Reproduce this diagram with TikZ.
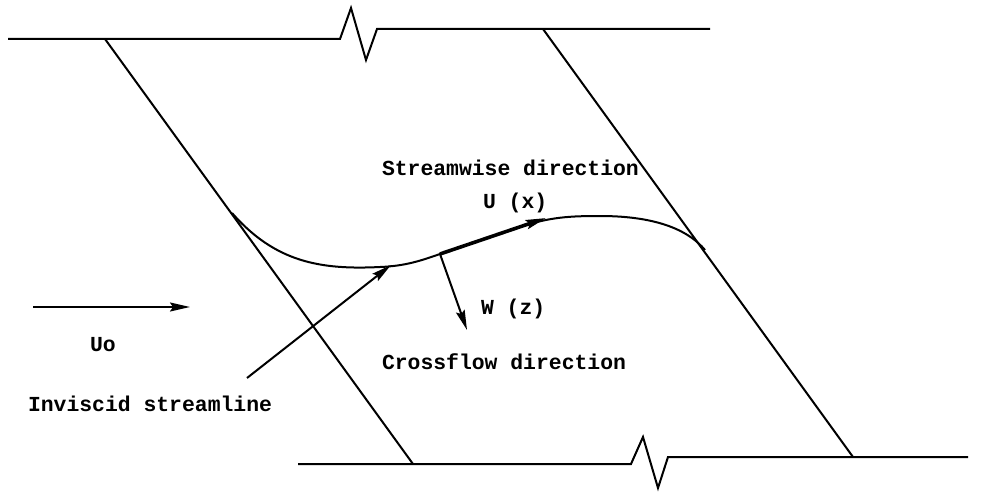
\documentclass[tikz,border=0pt]{standalone}
\usepackage{fontspec}
\setmonofont{Liberation Mono}
\usetikzlibrary{arrows.meta, positioning}

\begin{document}
\begin{tikzpicture}[>={Stealth[length=10pt, width=4.5pt, inset=1.5pt]}, x=0.5pt, y=-0.5pt, line width=1pt,
  lbl/.style={font=\ttfamily\bfseries\fontsize{10.7}{12}\selectfont, inner sep=0pt, anchor=west}]
  \useasboundingbox (0,0) rectangle (996,492);

  % Walls with break marks
  \draw (8,39) -- (340,39) -- (351,8) -- (366,60) -- (377,29) -- (710,29);
  \draw (298,464) -- (631,464) -- (643,437) -- (658,488) -- (668,457) -- (968,457);

  % Swept lines
  \draw (105,39) -- (413,464);
  \draw (543,29) -- (853,457);

  % Points for the arrows
  \coordinate (uBase) at (440,254);
  \coordinate (uTip) at (546,218);
  \coordinate (wTip) at (467,330);
  \coordinate (streamTail) at (247,378);
  \coordinate (streamTip) at (391,265);
  \coordinate (uoTail) at (33,307);
  \coordinate (uoTip) at (190,307);

  % Inviscid streamline
  \draw (232,213) .. controls (275,262) and (320,270) .. (380,267)
        .. controls (405,266) and (420,261) .. (uBase)
        -- (520,227)
        .. controls (550,217) and (570,216) .. (600,216)
        .. controls (660,216) and (690,232) .. (705,250);

  % Arrows
  \draw[->, line width=1.8pt] (uBase) -- (uTip);
  \draw[->] (uBase) -- (wTip);
  \draw[->] (streamTail) -- (streamTip);
  \draw[->] (uoTail) -- (uoTip);

  % Labels
  \node[lbl] (streamwise) at (381,168) {Streamwise direction};
  \node[lbl] (uLabel) at (482,203) {U (x)};
  \node[lbl] (wLabel) at (480,309) {W (z)};
  \node[lbl] (crossflow) at (381,362) {Crossflow direction};
  \node[lbl] (uoLabel) at (89,345) {Uo};
  \node[lbl] (inviscid) at (27,404) {Inviscid streamline};
\end{tikzpicture}
\end{document}
